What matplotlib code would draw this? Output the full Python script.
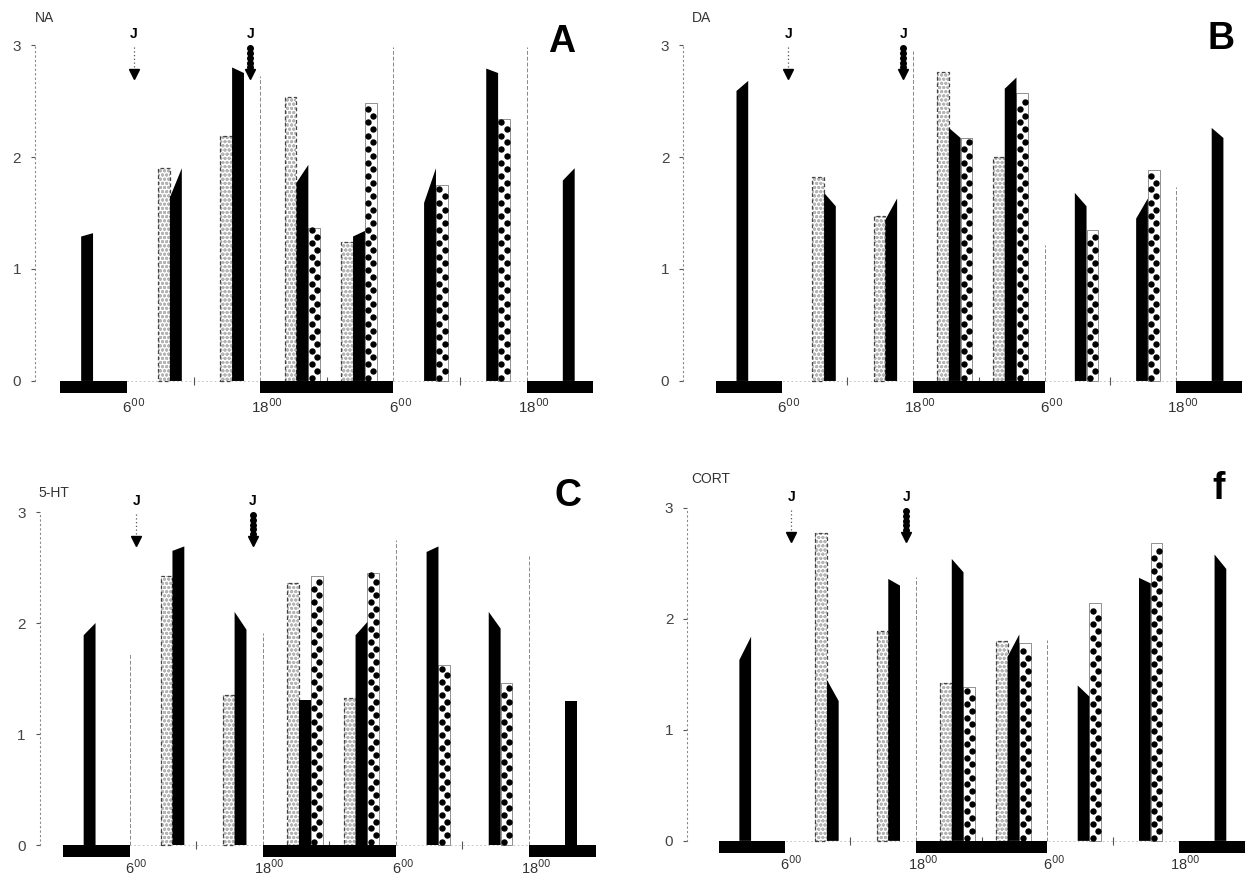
import numpy as np
import matplotlib
matplotlib.use("Agg")
import matplotlib.pyplot as plt
from matplotlib.transforms import ScaledTranslation

plt.rcParams['font.family'] = ['Liberation Sans', 'DejaVu Sans']

# group positions (hours from 0:00 of day 1), black bar centre
groups = [2.4, 10.4, 16.0, 21.8, 26.9, 33.3, 38.9, 45.8]
dark_periods = [(0, 6), (18, 30), (42, 48)]
faint_pos = [6, 18, 30, 42]
noon_ticks = [12, 24, 36]
arrow_pos = [6.6, 17.1]
xtick_pos = [6, 18, 30, 42]
xtick_lab = ['6$^{00}$', '18$^{00}$', '6$^{00}$', '18$^{00}$']

panels = ['NA', 'DA', '5-HT', 'CORT']
letters = ['A', 'B', 'C', 'f']

# open (light hatched) bars, None = absent
open_h = {
    'NA':   [None, 1.90, 2.19, 2.54, 1.24, None, None, None],
    'DA':   [None, 1.82, 1.47, 2.76, 2.00, None, None, None],
    '5-HT': [None, 2.42, 1.35, 2.36, 1.32, None, None, None],
    'CORT': [None, 2.77, 1.89, 1.42, 1.80, None, None, None],
}
# black bars: height at left edge and right edge (slanted tops)
black_l = {
    'NA':   [1.29, 1.64, 2.80, 1.77, 1.29, 1.59, 2.79, 1.79],
    'DA':   [2.59, 1.68, 1.44, 2.26, 2.61, 1.68, 1.45, 2.26],
    '5-HT': [1.89, 2.65, 2.10, 1.31, 1.89, 2.64, 2.10, 1.30],
    'CORT': [1.63, 1.45, 2.36, 2.54, 1.66, 1.40, 2.37, 2.58],
}
black_r = {
    'NA':   [1.32, 1.90, 2.75, 1.93, 1.34, 1.90, 2.75, 1.90],
    'DA':   [2.68, 1.56, 1.63, 2.17, 2.71, 1.56, 1.63, 2.17],
    '5-HT': [2.00, 2.69, 1.94, 1.31, 2.01, 2.69, 1.95, 1.30],
    'CORT': [1.84, 1.26, 2.30, 2.42, 1.86, 1.30, 2.32, 2.45],
}
# dotted bars
dot_h = {
    'NA':   [None, None, None, 1.37, 2.48, 1.75, 2.34, None],
    'DA':   [None, None, None, 2.17, 2.57, 1.35, 1.88, None],
    '5-HT': [None, None, None, 2.42, 2.45, 1.62, 1.46, None],
    'CORT': [None, None, None, 1.39, 1.78, 2.14, 2.68, None],
}
# faint dashed vertical lines at 6, 18, 30, 42 h
faint_h = {
    'NA':   [0, 2.72, 2.98, 2.98],
    'DA':   [0, 2.95, 1.21, 1.73],
    '5-HT': [1.72, 1.91, 2.75, 2.60],
    'CORT': [0, 2.38, 1.81, 0],
}

W = 1.07
XLIM = (-3.2, 49.8)
YLIM = (-0.12, 3.4)
axis_x = {'NA': -2.3, 'DA': -3.0, '5-HT': -2.1, 'CORT': -2.9}
label_pos = {'NA': (-2.3, 3.24), 'DA': (-2.2, 3.24), '5-HT': (-2.25, 3.17), 'CORT': (-2.5, 3.26)}
letter_pos = {'A': (45.2, 3.03), 'B': (46.1, 3.05), 'C': (45.5, 3.14), 'f': (45.6, 3.17)}
xlabel_pad = {'NA': 2, 'DA': 2, '5-HT': 0, 'CORT': 0}
xlabel_size = {'NA': 11, 'DA': 11, '5-HT': 10.5, 'CORT': 10.5}

fig = plt.figure(figsize=(12.48, 8.77), dpi=100)
axpos = [(0.0200, 0.5503, 0.4713, 0.4494), (0.5457, 0.5503, 0.4650, 0.4494),
         (0.0220, 0.0213, 0.4713, 0.4455), (0.5480, 0.0260, 0.4650, 0.4455)]

for name, letter, pos in zip(panels, letters, axpos):
    ax = fig.add_axes(pos)
    ax.set_xlim(*XLIM)
    ax.set_ylim(*YLIM)

    # faint baseline
    ax.plot([0, 48], [0, 0], color='#bbbbbb', lw=0.6, ls=(0, (2, 3)), zorder=1)
    ax.plot(noon_ticks, [0] * len(noon_ticks), ls='none', marker='|', ms=6, mew=0.8, color='#555555')

    # faint vertical lines
    for xp, h in zip(faint_pos, faint_h[name]):
        if h > 0:
            ax.plot([xp, xp], [0, h], color='#888888', lw=0.7, ls=(0, (4, 2)), zorder=1)

    for c, o, bl, br, d in zip(groups, open_h[name], black_l[name], black_r[name], dot_h[name]):
        x0 = c - W / 2
        if o is not None:
            ax.bar(x0 - W / 2, o, width=W, color='white', edgecolor='#b5b5b5', hatch='oooo', lw=0, zorder=2)
            ax.bar(x0 - W / 2, o, width=W, fill=False, edgecolor='#444444', lw=0.9, ls=(0, (3, 2)), zorder=3)
        ax.fill([x0, x0 + W, x0 + W, x0], [0, 0, br, bl], color='black', lw=0, zorder=4)
        if d is not None:
            xd = x0 + W
            ax.bar(xd + W / 2, d, width=W, color='white', edgecolor='#666666', lw=0.5, zorder=3)
            ys = np.arange(0.03, d - 0.02, 0.06)
            xs = np.where(np.arange(len(ys)) % 2 == 0, xd + 0.28 * W, xd + 0.72 * W)
            ax.plot(xs, ys, ls='none', marker='o', ms=4.6, mew=0, color='black', zorder=4)

    # dark periods
    for a, b in dark_periods:
        ax.fill_between([a, b], -0.105, 0, color='black', lw=0, zorder=5)

    # J arrows
    ax.plot([arrow_pos[0]] * 2, [2.98, 2.78], color='#555555', lw=0.9, ls=(0, (1, 2)))
    ax.plot([arrow_pos[0]], [2.74], marker='v', ms=7, color='black', ls='none')
    ax.plot([arrow_pos[1]] * 5, np.linspace(2.97, 2.80, 5), ls='none', marker='o', ms=4, color='black')
    ax.plot([arrow_pos[1]], [2.74], marker='v', ms=7, color='black', ls='none')
    ax.plot([arrow_pos[1]] * 2, [2.97, 2.76], color='black', lw=1.5)
    for xp in arrow_pos:
        ax.text(xp, 3.1, 'J', ha='center', va='center', fontsize=10, fontweight='bold')

    ax.text(*label_pos[name], name, fontsize=10, color='#333333', ha='left', va='center', clip_on=False)
    lx, ly = letter_pos[letter]
    ax.text(lx, ly, letter, fontsize=27, fontweight='bold', ha='center', va='center')

    for s in ['top', 'right', 'bottom']:
        ax.spines[s].set_visible(False)
    ax.spines['left'].set_position(('data', axis_x[name]))
    ax.spines['left'].set_bounds(0, 3)
    ax.spines['left'].set_linestyle((0, (1, 3)))
    ax.spines['left'].set_color('#888888')
    ax.spines['left'].set_linewidth(0.8)
    ax.set_yticks([0, 1, 2, 3])
    ax.set_yticklabels(['0', '1', '2', '3'])
    ax.tick_params(axis='y', direction='out', length=3, width=0.8, color='#555555',
                   labelsize=11, labelcolor='#444444', pad=7)
    ax.set_xticks(xtick_pos)
    ax.set_xticklabels(xtick_lab)
    ax.tick_params(axis='x', length=0, labelsize=xlabel_size[name], labelcolor='#333333',
                   pad=xlabel_pad[name])
    for lab in ax.get_xticklabels():
        lab.set_transform(lab.get_transform() + ScaledTranslation(7 / 100, 0, fig.dpi_scale_trans))

fig.savefig('out.png', dpi=100)
